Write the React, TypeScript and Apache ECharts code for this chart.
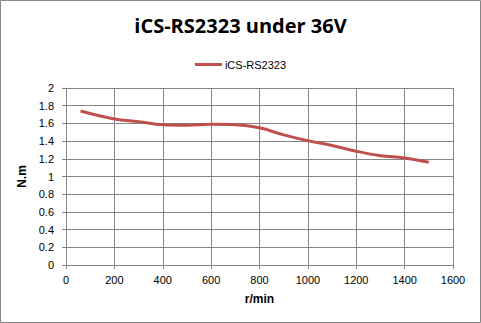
import React, { useEffect, useRef } from "react";
import * as echarts from "echarts";

const speeds = [60, 200, 300, 400, 500, 600, 700, 800, 900, 1000, 1100, 1200, 1300, 1400, 1500];
const torque = [1.74, 1.65, 1.62, 1.585, 1.58, 1.59, 1.585, 1.55, 1.47, 1.405, 1.35, 1.285, 1.235, 1.21, 1.16];
const seriesName = "iCS-RS2323";
const titleText = "iCS-RS2323 under 36V";

export default function App() {
  const ref = useRef<HTMLDivElement>(null);
  useEffect(() => {
    if (!ref.current) return;
    const chart = echarts.init(ref.current, undefined, { renderer: "svg" });
    const gray = "#868686";
    chart.setOption({
      animation: false,
      backgroundColor: "#fff",
      title: {
        text: titleText,
        left: "center",
        top: 10,
        textStyle: { fontFamily: "Open Sans", fontWeight: "bold", fontSize: 20, color: "#000" },
      },
      legend: {
        top: 54,
        left: "center",
        itemWidth: 27,
        itemHeight: 3,
        itemGap: 4,
        icon: "rect",
        textStyle: { fontFamily: "Liberation Sans", fontSize: 11, color: "#000", padding: [0, 0, 0, -2] },
        data: [seriesName],
      },
      graphic: [
        {
          type: "rect",
          shape: { x: 0.5, y: 0.5, width: 480, height: 322 },
          style: { fill: "none", stroke: gray, lineWidth: 1 },
          silent: true,
        },
      ],
      grid: { left: 66, right: 28, top: 88, bottom: 58 },
      xAxis: {
        type: "value",
        min: 0,
        max: 1600,
        interval: 200,
        name: "r/min",
        nameLocation: "middle",
        nameGap: 28,
        nameTextStyle: { fontFamily: "Liberation Sans", fontWeight: "bold", fontSize: 12, color: "#000" },
        axisLine: { show: true, lineStyle: { color: gray } },
        axisTick: { show: true, length: 4, lineStyle: { color: gray } },
        axisLabel: {
          fontFamily: "Liberation Sans",
          fontSize: 11,
          color: "#000",
          margin: 9,
          formatter: (v: number) => String(v),
        },
        splitLine: { show: true, lineStyle: { color: gray } },
      },
      yAxis: {
        type: "value",
        min: 0,
        max: 2,
        interval: 0.2,
        name: "N.m",
        nameLocation: "middle",
        nameGap: 37,
        nameRotate: 90,
        nameTextStyle: { fontFamily: "Liberation Sans", fontWeight: "bold", fontSize: 12, color: "#000" },
        axisLine: { show: true, lineStyle: { color: gray } },
        axisTick: { show: true, length: 4, lineStyle: { color: gray } },
        axisLabel: {
          fontFamily: "Liberation Sans",
          fontSize: 11,
          color: "#000",
          margin: 12,
          formatter: (v: number) => String(Math.round(v * 10) / 10),
        },
        splitLine: { show: true, lineStyle: { color: gray } },
      },
      series: [
        {
          name: seriesName,
          type: "line",
          smooth: 0.4,
          showSymbol: false,
          symbol: "none",
          lineStyle: { color: "#C0504D", width: 3 },
          itemStyle: { color: "#C0504D" },
          data: speeds.map((s, i) => [s, torque[i]]),
        },
      ],
    });
    return () => chart.dispose();
  }, []);
  return <div ref={ref} style={{ position: "fixed", left: 0, top: 0, width: 481, height: 323 }} />;
}
